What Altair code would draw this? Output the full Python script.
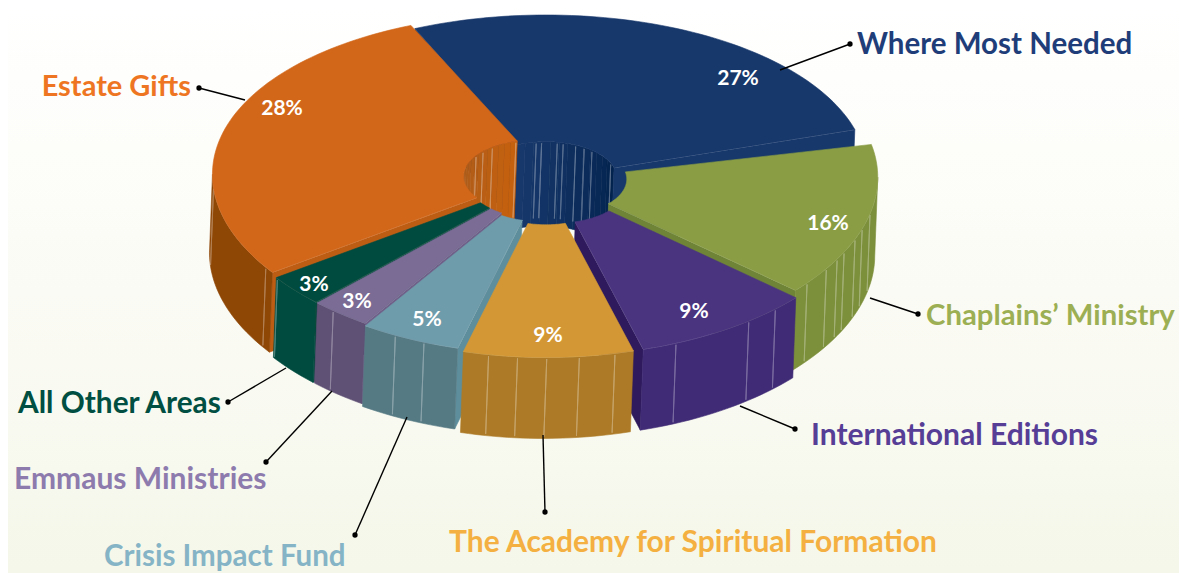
import math
import altair as alt
import pandas as pd

# ---- chart values ----
names = ["Where Most Needed", "Chaplains\u2019 Ministry", "International Editions",
         "The Academy for Spiritual Formation", "Crisis Impact Fund",
         "Emmaus Ministries", "All Other Areas", "Estate Gifts"]
percents = [27, 16, 9, 9, 5, 3, 3, 28]
shares = [27.1, 16.2, 9.0, 8.5, 5.0, 3.0, 3.0, 28.6]
top_colors = ["#17386B", "#8A9D45", "#4A3480", "#D39835", "#6F9CAB", "#7A6C95", "#004B3F", "#D2671A"]
wall_colors = ["#17386B", "#7C8F3B", "#402B76", "#AD7B27", "#567A84", "#5F5075", "#004B3F", "#8F4706"]
face_colors = ["#0B2752", "#6F8436", "#2E1A5C", "#AD7B27", "#5E8E9C", "#6F6089", "#00463A", "#BD5D14"]
text_colors = ["#1F3E79", "#9CAF53", "#563D96", "#F4B041", "#85B4C6", "#8D7BAE", "#004F42", "#EE7623"]
explode = [0, 10, 19, 19, 14, 10, 10, 12]
stripes = [[], [.45, .55, .62, .71, .76, .83, .94], [.16, .35, .81], [.11, .32, .51, .68, .85],
           [.35, .66], [.65], [.97], [.30, .02]]
hole_stripes = {0: [.165, .21, .34, .39, .50, .58, .66, .92], 7: [.63, .71, .80, .99]}
hole_shade = {0: ("#17386B", "#03234F"), 7: ("#A85A1C", "#C4610F")}
label_xy = [(857, 43), (926, 314), (811, 434), (449, 541), (104, 555), (14, 478), (18, 402), (191, 85)]
label_size = [29.5, 29.3, 30, 30, 29.5, 30, 29.8, 29]
label_align = ["left", "left", "left", "left", "left", "left", "left", "right"]
pct_xy = [(738, 79), (828, 224), (694, 312), (548, 336), (427, 320), (357, 302), (314, 285), (282, 109)]
leader_from = [(780, 70), (870, 298), (740, 406), (543, 435), (407, 417), (332, 391), (286, 368), (245, 100)]
leader_dot = [(850, 44), (918, 314), (795, 429), (545, 512), (355, 535), (266, 462), (228, 402), (199, 88)]
draw_order = [0, 7, 1, 6, 5, 4, 2, 3]

# ---- view geometry of the tilted disc ----
W, H = 1171, 565
cx, cy = 546.0, 176.0
R, r, squash, depth, persp, persp_x, shear = 322.0, 71.0, 0.515, 78.5, 0.03, 0.0, -3.0
hole_drop = 2.0
hole_reach = 1.08
start = -24.0
lead_gap = {1: 5.0}
inner_end = {7: 346.0}
end_face = {0: "#17386B"}

spans = []
a = start
for p in shares:
    spans.append((a, a + p * 3.6))
    a += p * 3.6


def proj(deg, rho, mid, e, z=0.0):
    t, m = math.radians(deg), math.radians(mid)
    X = rho * math.sin(t) + e * math.sin(m)
    Y = -rho * math.cos(t) - e * math.cos(m)
    w = 1 / (1 - persp * Y / R)
    wx = 1 / (1 - persp_x * Y / R)
    return (cx + X * wx + z * shear, cy + squash * Y * w + z * depth * w + (hole_drop if rho == r else 0))


def arc(a0, a1, rho, mid, e, z=0.0, n=None):
    n = n or max(2, int(abs(a1 - a0) / 1.5) + 1)
    return [proj(a0 + (a1 - a0) * j / (n - 1), rho, mid, e, z) for j in range(n)]


def mix(c0, c1, f):
    v0 = [int(c0[i:i + 2], 16) for i in (1, 3, 5)]
    v1 = [int(c1[i:i + 2], 16) for i in (1, 3, 5)]
    return "#%02x%02x%02x" % tuple(round(u + (v - u) * f) for u, v in zip(v0, v1))


rows, seq = [], [0, 0]


def add(points, fill, stroke=None, sw=0.6, op=1.0):
    seq[0] += 1
    for px, py in points:
        seq[1] += 1
        rows.append(dict(pid=seq[0], i=seq[1], x=px, y=py, fill=fill, stroke=stroke or fill, sw=sw, op=op))


def stripe(deg, rho, mid, e):
    add([proj(deg, rho, mid, e, 0.02), proj(deg, rho, mid, e, 0.98)], "transparent", "#FFFFFF", 1.0, 0.3)


for k in draw_order:
    a0, a1 = spans[k]
    mid, e = (a0 + a1) / 2, explode[k]
    a0 += lead_gap.get(k, 0.0)
    a1_in = inner_end.get(k, a1)
    # inner wall
    if k in hole_shade:
        lo, hi = max(a0, 270) if a0 > 180 else a0, a1_in
        steps = 14
        for j in range(steps):
            u0 = lo + (hi - lo) * j / steps
            u1 = lo + (hi - lo) * (j + 1) / steps
            pts = arc(u0, u1, r, mid, e, 0, 2) + arc(u1, u0, r, mid, e, hole_reach, 2)
            add(pts, mix(hole_shade[k][0], hole_shade[k][1], j / (steps - 1)))
        for f in hole_stripes[k]:
            stripe(a0 + (a1_in - a0) * f, r, mid, e)
    # cut faces that turn towards the viewer
    for edge, normal, colour in ((a0, a0 - 90, face_colors[k]), (a1, a1 + 90, end_face.get(k, face_colors[k]))):
        if -math.cos(math.radians(normal)) > 0:
            pts = [proj(edge, r, mid, e), proj(edge, R, mid, e), proj(edge, R, mid, e, 1), proj(edge, r, mid, e, 1)]
            add(pts, colour)
            add([proj(edge, r, mid, e), proj(edge, R, mid, e)], "transparent", "#FFFFFF", 0.8, 0.3)
    # outer wall, the part facing front
    lo, hi = max(a0, 90), min(a1, 270)
    if hi > lo:
        add(arc(lo, hi, R, mid, e) + arc(hi, lo, R, mid, e, 1), wall_colors[k])
        for f in stripes[k]:
            u = a0 + (a1 - a0) * f
            if lo <= u <= hi:
                stripe(u, R, mid, e)
        add(arc(lo, hi, R, mid, e), "transparent", "#FFFFFF", 0.8, 0.3)
    # top
    add(arc(a0, a1, R, mid, e) + arc(a1_in, a0, r, mid, e), top_colors[k])

poly = pd.DataFrame(rows)
x_scale = alt.Scale(domain=[8, 8 + W], nice=False, zero=False)
y_scale = alt.Scale(domain=[8 + H, 8], nice=False, zero=False)
X = alt.X("x:Q", scale=x_scale, axis=None)
Y = alt.Y("y:Q", scale=y_scale, axis=None)

backdrop = alt.Chart(pd.DataFrame({"k": [0]})).mark_rect(
    color=alt.Gradient(gradient="linear", x1=0, x2=0, y1=0, y2=1,
                       stops=[alt.GradientStop(color="#FFFFFF", offset=0),
                              alt.GradientStop(color="#FBFBF5", offset=0.5),
                              alt.GradientStop(color="#F5F7EA", offset=1)])
).encode(x=alt.value(0), x2=alt.value(W), y=alt.value(0), y2=alt.value(H))

pie = alt.Chart(poly).mark_line(interpolate="linear-closed").encode(
    x=X, y=Y, order=alt.Order("i:Q"), detail="pid:N",
    fill=alt.Fill("fill:N", scale=None),
    stroke=alt.Stroke("stroke:N", scale=None),
    strokeWidth=alt.StrokeWidth("sw:Q", scale=None),
    opacity=alt.Opacity("op:Q", scale=None),
)

lead_rows = []
for k, (s, t) in enumerate(zip(leader_from, leader_dot)):
    lead_rows += [dict(k=k, i=0, x=s[0], y=s[1]), dict(k=k, i=1, x=t[0], y=t[1])]
lead_df = pd.DataFrame(lead_rows)
leaders = alt.Chart(lead_df).mark_line(color="#000000", strokeWidth=1.4).encode(
    x=X, y=Y, detail="k:N", order=alt.Order("i:Q"))
dots = alt.Chart(pd.DataFrame({"x": [d[0] for d in leader_dot], "y": [d[1] for d in leader_dot]})).mark_circle(
    color="#000000", size=28, opacity=1).encode(x=X, y=Y)

lab = pd.DataFrame({"x": [p[0] for p in label_xy], "y": [p[1] + 2 for p in label_xy], "t": names,
                    "c": text_colors, "al": label_align, "s": label_size})
label_layers = []
for al in ("left", "right"):
    label_layers.append(alt.Chart(lab[lab.al == al]).mark_text(
        font="Lato", fontWeight="bold", align=al, baseline="middle").encode(
        x=X, y=Y, text="t:N", color=alt.Color("c:N", scale=None), size=alt.Size("s:Q", scale=None)))

pct = pd.DataFrame({"x": [p[0] for p in pct_xy], "y": [p[1] for p in pct_xy],
                    "t": [f"{v}%" for v in percents]})
pct_text = alt.Chart(pct).mark_text(font="Lato", fontWeight="bold", fontSize=21, color="#FFFFFF",
                                    align="center", baseline="middle").encode(x=X, y=Y, text="t:N")

chart = alt.layer(backdrop, pie, leaders, dots, *label_layers, pct_text).properties(
    width=W, height=H, padding=0, autosize=alt.AutoSizeParams(type="none"), background="transparent"
).configure_view(stroke=None)
chart.save("out.html", embed_options={"renderer": "svg", "actions": False})
